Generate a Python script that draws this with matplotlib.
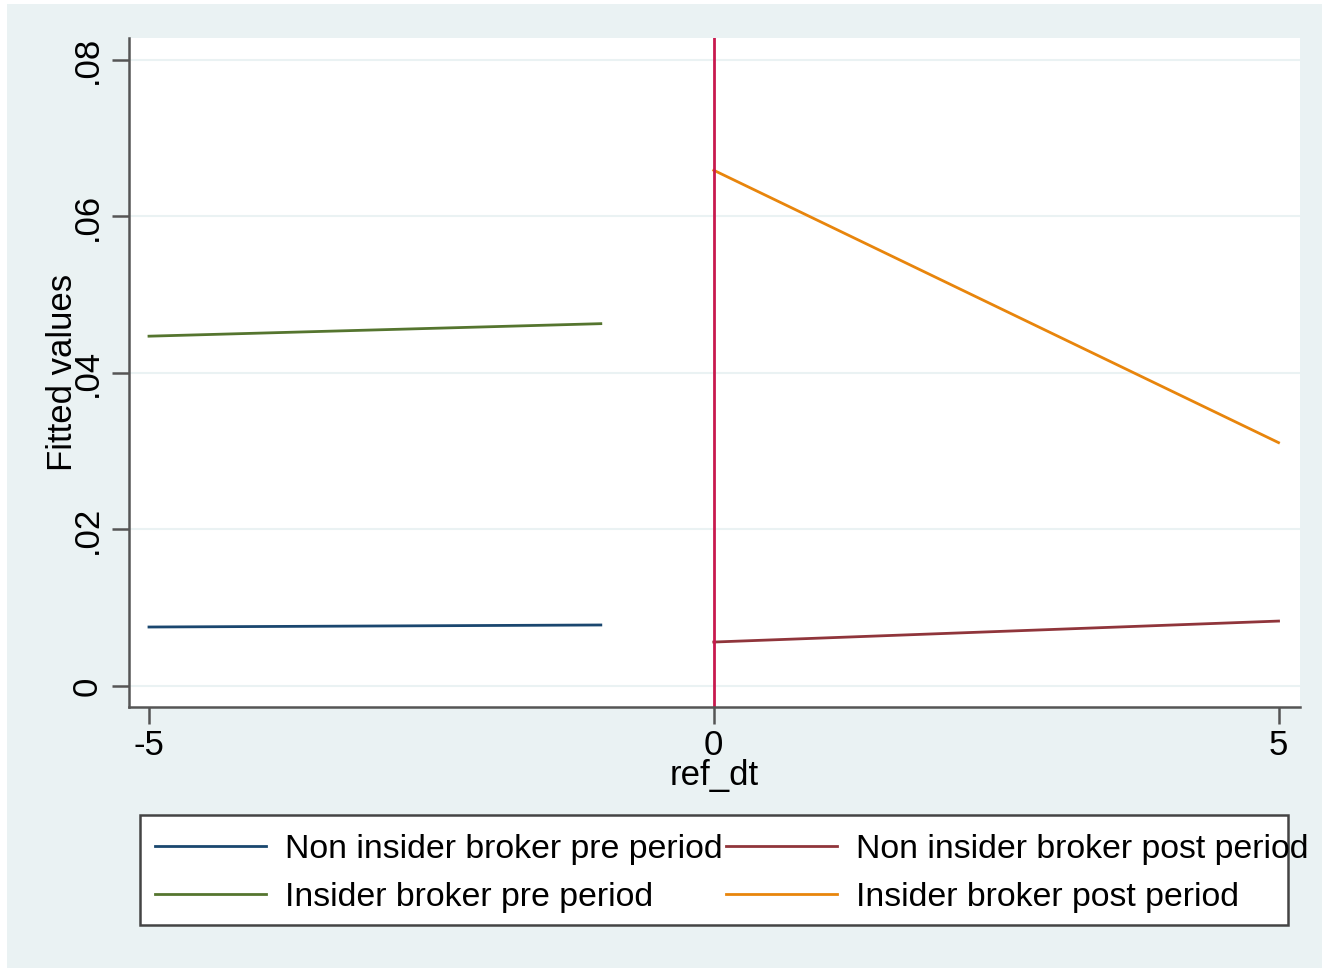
import matplotlib
matplotlib.use('Agg')
import matplotlib.pyplot as plt
from matplotlib.patches import Rectangle

plt.rcParams['font.family'] = ['Liberation Sans', 'DejaVu Sans']
plt.rcParams['axes.unicode_minus'] = False

# fitted lines, endpoints
pre_x = [-5, -1]
post_x = [0, 5]
non_insider_pre = [0.00754, 0.0078]
insider_pre = [0.0447, 0.0463]
non_insider_post = [0.00562, 0.0083]
insider_post = [0.0659, 0.0311]
event_x = 0

labels = ['Non insider broker pre period', 'Insider broker pre period',
          'Non insider broker post period', 'Insider broker post period']
yticks = [0, 0.02, 0.04, 0.06, 0.08]
ytick_labels = ['0', '.02', '.04', '.06', '.08']
xticks = [-5, 0, 5]

bg = '#eaf2f3'
fs = 25
W, H = 1322, 968
fig = plt.figure(figsize=(W / 100, H / 100), dpi=100, facecolor='white')
fig.patches.append(Rectangle((7 / W, 0), 1 - 7 / W, 1 - 4 / H, transform=fig.transFigure,
                             facecolor=bg, edgecolor='none', zorder=-10))

ax = fig.add_axes([129 / W, 1 - 707 / H, (1300 - 129) / W, (707 - 38) / H])
ax.set_facecolor('white')

ax.plot(pre_x, non_insider_pre, color='#1a476f', lw=2, label=labels[0])
ax.plot(pre_x, insider_pre, color='#55752f', lw=2, label=labels[1])
ax.plot(post_x, non_insider_post, color='#90353b', lw=2, label=labels[2])
ax.plot(post_x, insider_post, color='#e8850c', lw=2, label=labels[3])
ax.axvline(event_x, color='#c8194e', lw=2)

ax.set_xlim(-5.177, 5.19)
ax.set_ylim(-0.00268, 0.0828)
ax.set_yticks(yticks)
ax.set_yticklabels(ytick_labels, rotation=90, va='center')
ax.set_xticks(xticks)
ax.yaxis.grid(True, color=bg, lw=1.5)
ax.set_axisbelow(True)

for s in ['top', 'right']:
    ax.spines[s].set_visible(False)
for s in ['left', 'bottom']:
    ax.spines[s].set_color('#555555')
    ax.spines[s].set_linewidth(1.8)
ax.tick_params(direction='out', length=12, width=1.8, color='#555555',
               labelsize=fs, pad=6)
ax.tick_params(axis='x', pad=4)

ax.set_xlabel('ref_dt', fontsize=fs, labelpad=-2)
# Stata puts the axis title right over the .04 label
ax.set_ylabel('Fitted values', fontsize=fs)
ax.yaxis.set_label_coords(-0.043, 0.5)

# legend frame drawn separately, Stata lets the text run past it
lfs = 24.4
fig.patches.append(Rectangle((140 / W, 1 - 925 / H), (1288 - 140) / W, (925 - 815) / H,
                             transform=fig.transFigure, facecolor='white',
                             edgecolor='#444444', lw=1.8, zorder=-5))
handles, lbls = ax.get_legend_handles_labels()
fig.legend(handles, lbls, ncol=2, frameon=False, fontsize=lfs,
           loc='upper left', bbox_to_anchor=(155 / W, 1 - 834 / H),
           borderpad=0, borderaxespad=0, handlelength=3.27, handletextpad=0.56,
           columnspacing=0.12, labelspacing=0.5)

fig.savefig('out.png', dpi=100, facecolor=fig.get_facecolor())
